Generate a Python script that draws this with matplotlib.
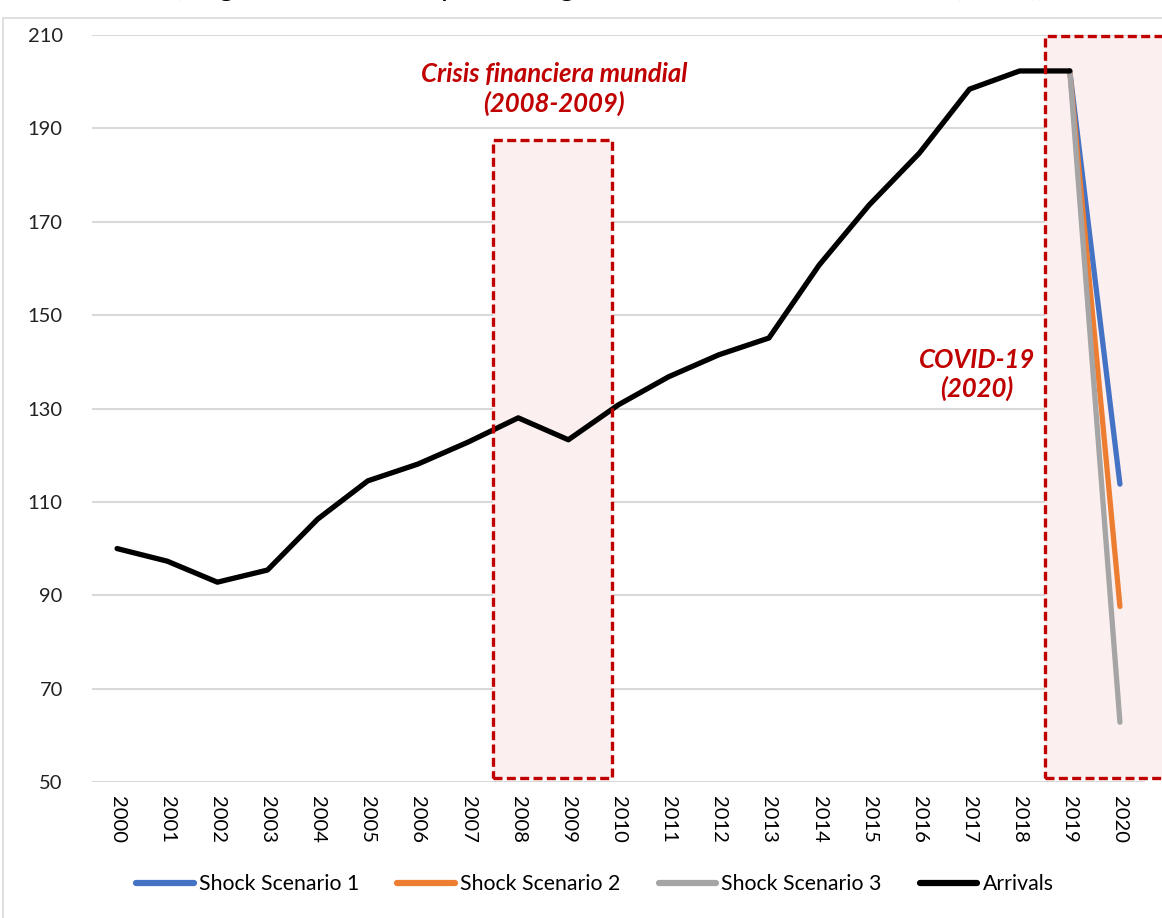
import numpy as np
import matplotlib.pyplot as plt
from matplotlib.patches import Rectangle

plt.rcParams['font.family'] = ['Lato', 'DejaVu Sans']

# Data
years = [str(y) for y in range(2000, 2021)]
arrivals = [100.0, 97.3, 92.8, 95.4, 106.3, 114.5, 118.1, 122.8, 128.0, 123.3,
            130.8, 136.8, 141.5, 145.1, 160.7, 173.6, 184.7, 198.4, 202.3, 202.3]
shock_years = ['2019', '2020']
shock1 = [202.3, 113.8]
shock2 = [202.3, 87.6]
shock3 = [202.3, 62.8]

x_all = np.arange(len(years))
x_arr = x_all[:len(arrivals)]
x_shock = np.array([years.index(y) for y in shock_years])

fig = plt.figure(figsize=(11.62, 9.18), dpi=100)
ax = fig.add_axes([92 / 1162, 1 - 782 / 918, 1053 / 1162, 747 / 918])

# chart-area border
fig.patches.append(Rectangle((3 / 1162, -0.01), 1.2, 1 - 18 / 918 + 0.01,
                             transform=fig.transFigure, fill=False,
                             edgecolor='#D9D9D9', lw=1.2))

# title, cut off at the top edge as in the source image
fig.text(0.525, 1 + 4 / 918, '(Llegadas de turistas para la región de ALC, índice base 2000 (=100))',
         ha='center', va='baseline', fontsize=21, color='black')

red = '#C00000'
pink = '#FBF0EF'
dash = (0, (2.7, 1.3))

# shaded boxes
ax.add_patch(Rectangle((7.5, 50.8), 2.37, 136.8, facecolor=pink, edgecolor='none', zorder=1))
ax.add_patch(Rectangle((7.5, 50.8), 2.37, 136.8, facecolor='none', edgecolor=red,
                       lw=2.4, linestyle=dash, zorder=4))
ax.add_patch(Rectangle((18.5, 50.8), 2.9, 159.0, facecolor=pink, edgecolor='none',
                       zorder=1, clip_on=False))
ax.add_patch(Rectangle((18.5, 50.8), 2.9, 159.0, facecolor='none', edgecolor=red,
                       lw=2.4, linestyle=dash, zorder=4, clip_on=False))

ax.plot(x_shock, shock1, color='#4472C4', lw=3.8, solid_capstyle='round', zorder=3, label='Shock Scenario 1')
ax.plot(x_shock, shock2, color='#ED7D31', lw=3.8, solid_capstyle='round', zorder=3, label='Shock Scenario 2')
ax.plot(x_shock, shock3, color='#A5A5A5', lw=3.8, solid_capstyle='round', zorder=3, label='Shock Scenario 3')
ax.plot(x_arr, arrivals, color='black', lw=3.8, solid_capstyle='round', zorder=3, label='Arrivals')

ax.text(8.72, 198.4, 'Crisis financiera mundial\n(2008-2009)', ha='center', va='center',
        color=red, fontsize=18.5, fontweight='bold', fontstyle='italic', linespacing=1.2)
ax.text(17.15, 137.3, 'COVID-19\n(2020)', ha='center', va='center',
        color=red, fontsize=18.5, fontweight='bold', fontstyle='italic', linespacing=1.2)

ax.set_xlim(-0.5, len(years) - 0.5)
ax.set_ylim(50, 210)
ax.set_yticks(np.arange(50, 211, 20))
ax.set_xticks(x_all)
ax.set_xticklabels(years, rotation=270, fontsize=14.5)
ax.tick_params(axis='y', labelsize=14.5, length=0, pad=21)
ax.tick_params(axis='x', length=0, pad=10)
for lab in ax.get_yticklabels():
    lab.set_color('#222222')
ax.grid(axis='y', color='#D9D9D9', lw=1.5, zorder=0)
ax.set_axisbelow(True)
for s in ax.spines.values():
    s.set_visible(False)

leg = fig.legend(loc='center', bbox_to_anchor=(0.512, 1 - 884 / 918), ncol=4, frameon=False,
                 fontsize=15.3, handlelength=2.7, handletextpad=0.25, columnspacing=1.8)
for h in leg.get_lines():
    h.set_linewidth(4.5)
    h.set_solid_capstyle('round')

fig.savefig('out.png', dpi=100)
